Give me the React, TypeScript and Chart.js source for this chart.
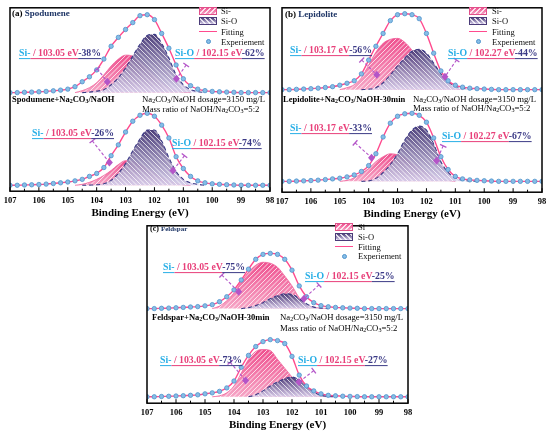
import { useEffect, useRef } from "react";
import { Chart, registerables } from "chart.js";
import type { Plugin, ScriptableContext } from "chart.js";

Chart.register(...registerables);

const SERIF = '"Liberation Serif", "Times New Roman", serif';
Chart.defaults.font.family = SERIF;

const _ = null;

// binding energy grid (eV), 0.25 eV steps
const energy = [
  107, 106.75, 106.5, 106.25, 106, 105.75, 105.5, 105.25, 105, 104.75, 104.5, 104.25, 104,
  103.75, 103.5, 103.25, 103, 102.75, 102.5, 102.25, 102, 101.75, 101.5, 101.25, 101, 100.75,
  100.5, 100.25, 100, 99.75, 99.5, 99.25, 99, 98.75, 98.5, 98.25, 98,
];

// (a) spodumene
const aTop = [0, 0, 0.3, 0.5, 0.8, 1.2, 1.8, 2.5, 3.5, 6, 11, 16, 23, 34, 47, 56, 64, 71, 78, 79, 74, 60, 45, 28, 14, 7, 3.5, 2, 1.2, 0.8, 0.5, 0.3, 0, 0, 0, 0, 0];
const aTopSi = [_, _, _, _, _, _, _, _, _, 0, 2, 5, 10, 18, 27, 34, 38, 37, 32, 25, 17, 10, 5, 2, 0.5, 0, _, _, _, _, _, _, _, _, _, _, _];
const aTopSiO = [_, _, _, _, _, _, _, _, _, _, 0, 0.5, 1.5, 3, 8, 15, 25, 37, 49, 58, 59, 50, 35, 18, 8, 3, 1, 0, _, _, _, _, _, _, _, _, _];
const aBot = [0, 0, 0.3, 0.5, 0.8, 1.2, 1.8, 2.5, 3.3, 4.5, 6, 9, 12, 18, 30, 41, 54, 65, 71, 73, 70, 61, 48, 29, 17, 9, 4.5, 2.5, 1.5, 1, 0.6, 0.3, 0, 0, 0, 0, 0];
const aBotSi = [_, _, _, _, _, _, _, _, _, 0, 1, 3, 6, 10, 15, 21, 25, 24, 21, 17, 12, 8, 4, 2, 0.5, 0, _, _, _, _, _, _, _, _, _, _, _];
const aBotSiO = [_, _, _, _, _, _, _, _, _, _, 0, 0.2, 0.5, 1.5, 5, 12, 22, 35, 47, 56, 56, 45, 28, 14, 6, 2.5, 1, 0, _, _, _, _, _, _, _, _, _];

// (b) lepidolite
const bTop = [0, 0, 0.3, 0.6, 1, 1.5, 2.2, 3, 4.5, 6.5, 9, 16, 30, 44, 57, 70, 76, 77, 76, 72, 57, 37, 19, 9, 4.5, 2.5, 1.5, 1, 0.6, 0.3, 0, 0, 0, 0, 0, 0, 0];
const bTopSi = [_, _, _, _, _, _, _, _, 0, 2, 5, 12, 25, 38, 47, 51, 52, 48, 40, 30, 20, 12, 6, 2.5, 1, 0, _, _, _, _, _, _, _, _, _, _, _];
const bTopSiO = [_, _, _, _, _, _, _, _, _, _, _, 0, 0.5, 2, 7, 15, 24, 32, 39, 41, 37, 27, 16, 8, 3.5, 1.5, 0.5, 0, _, _, _, _, _, _, _, _, _];
const bBot = [0, 0, 0.3, 0.5, 0.8, 1.2, 1.8, 2.5, 3.2, 4.5, 6.5, 10, 16, 28, 45, 59, 66, 68.5, 69, 67, 60, 44, 25, 12, 5, 2.5, 1.5, 1, 0.6, 0.3, 0, 0, 0, 0, 0, 0, 0];
const bBotSi = [_, _, _, _, _, _, _, _, 0, 1, 3.5, 8, 13, 20, 25, 28, 27, 24, 19, 14, 9, 5, 2.5, 1, 0, _, _, _, _, _, _, _, _, _, _, _, _];
const bBotSiO = [_, _, _, _, _, _, _, _, _, _, _, 0, 0.5, 3, 9, 17, 28, 42, 52, 56, 52, 38, 20, 9, 3.5, 1.2, 0.4, 0, _, _, _, _, _, _, _, _, _];

// (c) feldspar
const cTop = [0, 0, 0.3, 0.5, 0.8, 1.2, 1.6, 2, 2.8, 4, 7, 12, 19, 29, 40, 50, 55, 56, 55, 50, 39, 23, 12, 6, 3, 1.8, 1.2, 0.8, 0.5, 0.3, 0, 0, 0, 0, 0, 0, 0];
const cTopSi = [_, _, _, _, _, _, _, _, _, 0, 2.5, 8, 16, 27, 37, 44, 47, 46, 42, 33, 23, 11, 4, 1.5, 0.5, 0, _, _, _, _, _, _, _, _, _, _, _];
const cTopSiO = [_, _, _, _, _, _, _, _, _, _, _, _, _, 0, 1, 3, 6, 10, 13, 15, 14.5, 10, 5, 1.5, 0.5, 0, _, _, _, _, _, _, _, _, _, _, _];
const cBot = [0, 0, 0.3, 0.5, 0.8, 1.1, 1.5, 2, 3, 4, 5.5, 9, 16, 30, 42, 51, 56, 58, 57, 54, 41, 22, 11, 6, 3, 1.5, 1, 0.6, 0.4, 0.2, 0, 0, 0, 0, 0, 0, 0];
const cBotSi = [_, _, _, _, _, _, _, _, _, 0, 1, 4, 11, 24, 38, 46, 48, 47, 38, 29, 20, 11, 4, 1.5, 0.5, 0, _, _, _, _, _, _, _, _, _, _, _];
const cBotSiO = [_, _, _, _, _, _, _, _, _, _, _, _, _, _, 0, 2, 6, 11, 15, 18.5, 20, 17, 11, 5, 1.5, 0.5, 0, _, _, _, _, _, _, _, _, _, _];

// pointer pins: [cap eV, cap height, diamond eV, diamond height]
const aTopPins = [[103.98, 24, 103.63, 11], [100.9, 28, 101.24, 14]];
const aBotPins = [[104.15, 45, 103.56, 23], [100.96, 30, 101.36, 15]];
const bTopPins = [[104.24, 30, 103.72, 15], [100.96, 30, 101.36, 13]];
const bBotPins = [[104.47, 39, 103.9, 24], [101.42, 36, 101.65, 21]];
const cTopPins = [[104.42, 34, 103.84, 17], [101.07, 24, 101.59, 10]];
const cBotPins = [[104.13, 35, 103.6, 16.5], [101.25, 26.5, 101.76, 15]];

const xTicks = [107, 106, 105, 104, 103, 102, 101, 100, 99, 98];

const PINK = "#ff4b8e";
const PINK_TXT = "#e8407a";
const CYAN = "#27aee6";
const NAVY = "#3b3a86";
const PIN = "#b455c8";
const DOT = "#86bde6";
const DOT_EDGE = "#4f93cc";
const SI_STOPS = ["#ef4f8e", "#f6a6c6"];
const SIO_STOPS = ["rgba(68,54,116,0.95)", "rgba(214,204,234,0.93)"];

type Vals = (number | null)[];
type Spectrum = { offset: number; counts: Vals; si: Vals; sio: Vals; pins: number[][] };
type Box = { left: number; top: number; right: number; bottom: number };

function pts(vals: Vals, offset: number) {
  return energy.map((e, i) => ({ x: e, y: vals[i] == null ? null : (vals[i] as number) + offset }));
}

function peakOf(vals: Vals) {
  return Math.max(...(vals.filter((v) => v != null) as number[]));
}

function hatch(chart: Chart, topPx: number, botPx: number, stops: string[], rising: boolean) {
  const c = document.createElement("canvas");
  c.width = chart.width;
  c.height = chart.height;
  const g = c.getContext("2d")!;
  const grad = g.createLinearGradient(0, topPx, 0, botPx);
  grad.addColorStop(0, stops[0]);
  grad.addColorStop(1, stops[1]);
  g.fillStyle = grad;
  g.fillRect(0, 0, c.width, c.height);
  g.strokeStyle = "rgba(255,255,255,0.75)";
  g.lineWidth = 1;
  for (let k = -c.height; k < c.width; k += 4.5) {
    g.beginPath();
    if (rising) {
      g.moveTo(k, c.height);
      g.lineTo(k + c.height, 0);
    } else {
      g.moveTo(k, 0);
      g.lineTo(k + c.height, c.height);
    }
    g.stroke();
  }
  return chart.ctx.createPattern(c, "no-repeat")!;
}

const framePlugin: Plugin<"line"> = {
  id: "frame",
  afterDatasetsDraw(chart) {
    const { ctx, chartArea: a } = chart;
    const x = chart.scales.x;
    ctx.save();
    ctx.strokeStyle = "#000";
    ctx.lineWidth = 1;
    for (let v = 98; v <= 107; v += 0.5) {
      const px = x.getPixelForValue(v);
      const len = v % 1 === 0 ? 4 : 2.5;
      ctx.beginPath();
      ctx.moveTo(px, a.bottom);
      ctx.lineTo(px, a.bottom - len);
      ctx.stroke();
    }
    ctx.lineWidth = 1.5;
    ctx.strokeRect(a.left, a.top, a.right - a.left, a.bottom - a.top);
    ctx.restore();
  },
};

const pinPlugin: Plugin<"line"> = {
  id: "pins",
  afterDatasetsDraw(chart, _args, opts: any) {
    const items: number[][] = opts.items || [];
    const { ctx } = chart;
    const x = chart.scales.x;
    const y = chart.scales.y;
    ctx.save();
    for (const p of items) {
      const tx = x.getPixelForValue(p[0]);
      const ty = y.getPixelForValue(p[1]);
      const dx = x.getPixelForValue(p[2]);
      const dy = y.getPixelForValue(p[3]);
      const ang = Math.atan2(dy - ty, dx - tx);
      ctx.strokeStyle = PIN;
      ctx.lineWidth = 1.1;
      ctx.setLineDash([3, 2]);
      ctx.beginPath();
      ctx.moveTo(tx, ty);
      ctx.lineTo(dx, dy);
      ctx.stroke();
      ctx.setLineDash([]);
      const nx = -Math.sin(ang) * 3.5;
      const ny = Math.cos(ang) * 3.5;
      ctx.lineWidth = 1.3;
      ctx.beginPath();
      ctx.moveTo(tx + nx, ty + ny);
      ctx.lineTo(tx - nx, ty - ny);
      ctx.stroke();
      ctx.fillStyle = PIN;
      ctx.beginPath();
      ctx.moveTo(dx, dy - 4);
      ctx.lineTo(dx + 3.5, dy);
      ctx.lineTo(dx, dy + 4);
      ctx.lineTo(dx - 3.5, dy);
      ctx.closePath();
      ctx.fill();
    }
    ctx.restore();
  },
};

function SpectraChart({ box, spectra }: { box: Box; spectra: Spectrum[] }) {
  const canvasRef = useRef<HTMLCanvasElement>(null);
  const h = box.bottom - box.top;

  useEffect(() => {
    if (!canvasRef.current) return;
    const datasets: any[] = [];
    const pins: number[][] = [];
    spectra.forEach((s) => {
      const fillFor = (vals: Vals, stops: string[], rising: boolean) => (ctx: ScriptableContext<"line">) => {
        const chart = ctx.chart;
        if (!chart.chartArea) return "transparent";
        const ys = chart.scales.y;
        return hatch(chart, ys.getPixelForValue(s.offset + peakOf(vals)), ys.getPixelForValue(s.offset), stops, rising);
      };
      datasets.push(
        {
          label: "Experiement",
          data: pts(s.counts, s.offset),
          showLine: false,
          pointRadius: 2.2,
          pointBackgroundColor: DOT,
          pointBorderColor: DOT_EDGE,
          pointBorderWidth: 0.8,
          order: 1,
        },
        {
          label: "Fitting",
          data: pts(s.counts, s.offset),
          borderColor: PINK,
          borderWidth: 1.4,
          pointRadius: 0,
          cubicInterpolationMode: "monotone",
          order: 2,
        },
        {
          label: "Si-O",
          data: pts(s.sio, s.offset),
          borderColor: NAVY,
          borderWidth: 1.1,
          borderDash: [4, 3],
          pointRadius: 0,
          cubicInterpolationMode: "monotone",
          fill: { value: s.offset },
          backgroundColor: fillFor(s.sio, SIO_STOPS, false),
          order: 3,
        },
        {
          label: "Si-",
          data: pts(s.si, s.offset),
          borderColor: "#f0619a",
          borderWidth: 0.8,
          pointRadius: 0,
          cubicInterpolationMode: "monotone",
          fill: { value: s.offset },
          backgroundColor: fillFor(s.si, SI_STOPS, true),
          order: 4,
        }
      );
      s.pins.forEach((p) => pins.push([p[0], p[1] + s.offset, p[2], p[3] + s.offset]));
    });

    const chart = new Chart(canvasRef.current, {
      type: "line",
      data: { datasets },
      plugins: [framePlugin, pinPlugin],
      options: {
        animation: false,
        responsive: true,
        maintainAspectRatio: false,
        events: [],
        layout: { padding: { left: 12, right: 12, top: 2, bottom: 2.4 } },
        plugins: {
          legend: { display: false },
          tooltip: { enabled: false },
          // @ts-ignore custom plugin options
          pins: { items: pins },
        },
        scales: {
          x: {
            type: "linear",
            reverse: true,
            min: 98,
            max: 107,
            afterBuildTicks: (axis) => {
              axis.ticks = xTicks.map((v) => ({ value: v }));
            },
            ticks: { color: "#000", padding: 4, font: { size: 8.5, weight: "bold" } },
            grid: { display: false, drawTicks: false },
            border: { display: false },
            title: {
              display: true,
              text: "Binding Energy (eV)",
              color: "#000",
              padding: { top: -3, bottom: 0 },
              font: { size: 11, weight: "bold" },
            },
          },
          y: { display: false, min: 0, max: h },
        },
      },
    });

    return () => chart.destroy();
  }, [box, spectra, h]);

  return (
    <div
      style={{
        position: "absolute",
        left: box.left - 12,
        top: box.top - 2,
        width: box.right - box.left + 24,
        height: h + 33,
      }}
    >
      <canvas ref={canvasRef} />
    </div>
  );
}

function Chem({ pre, post }: { pre?: string; post?: string }) {
  const sub = { fontSize: "0.7em", verticalAlign: "-0.25em", lineHeight: 0 };
  return (
    <>
      {pre}Na<span style={sub}>2</span>CO<span style={sub}>3</span>/NaOH{post}
    </>
  );
}

function Text({ x, y, children, style }: { x: number; y: number; children: any; style?: any }) {
  return (
    <div
      style={{
        position: "absolute",
        left: x,
        top: y,
        transform: "translateY(-50%)",
        whiteSpace: "nowrap",
        lineHeight: 1,
        fontFamily: SERIF,
        ...style,
      }}
    >
      {children}
    </div>
  );
}

function PeakLabel({ x, y, name, ev, pct }: { x: number; y: number; name: string; ev: string; pct: string }) {
  const u = { textDecoration: "underline", textDecorationThickness: "1px", textUnderlineOffset: "1.5px" };
  return (
    <Text x={x} y={y} style={{ fontSize: 9.8, fontWeight: "bold" }}>
      <span style={{ ...u, color: CYAN }}>{name}</span>
      <span style={{ ...u, color: PINK_TXT }}>{` / ${ev} eV`}</span>
      <span style={{ ...u, color: NAVY }}>{`-${pct}%`}</span>
    </Text>
  );
}

function Conditions({ x, y1, y2 }: { x: number; y1: number; y2: number }) {
  const sub = { fontSize: "0.7em", verticalAlign: "-0.25em", lineHeight: 0 };
  return (
    <>
      <Text x={x} y={y1} style={{ fontSize: 8.7 }}>
        <Chem post=" dosage=3150 mg/L" />
      </Text>
      <Text x={x} y={y2} style={{ fontSize: 8.7 }}>
        Mass ratio of NaOH/Na<span style={sub}>2</span>CO<span style={sub}>3</span>=5:2
      </Text>
    </>
  );
}

function swatch(stops: string[], edge: string, angle: number) {
  return {
    background: `repeating-linear-gradient(${angle}deg, rgba(255,255,255,0.8) 0 1px, transparent 1px 3.5px), linear-gradient(${stops[0]}, ${stops[1]})`,
    border: `1px solid ${edge}`,
    boxSizing: "border-box" as const,
  };
}

function Legend({ x, tx, rows, siName }: { x: number; tx: number; rows: number[]; siName: string }) {
  const t = { fontSize: 8.5, color: "#111" };
  return (
    <>
      <div style={{ position: "absolute", left: x, top: rows[0] - 4, width: 18, height: 8, ...swatch(SI_STOPS, "#e0508a", 135) }} />
      <Text x={tx} y={rows[0]} style={t}>{siName}</Text>
      <div style={{ position: "absolute", left: x, top: rows[1] - 4, width: 18, height: 8, ...swatch(SIO_STOPS, "#4a3b78", 45) }} />
      <Text x={tx} y={rows[1]} style={t}>Si-O</Text>
      <div style={{ position: "absolute", left: x, top: rows[2] - 0.75, width: 18, height: 1.5, background: PINK }} />
      <Text x={tx} y={rows[2]} style={t}>Fitting</Text>
      <div
        style={{
          position: "absolute",
          left: x + 6.5,
          top: rows[3] - 2.5,
          width: 5,
          height: 5,
          borderRadius: "50%",
          background: DOT,
          border: `0.8px solid ${DOT_EDGE}`,
          boxSizing: "border-box",
        }}
      />
      <Text x={tx} y={rows[3]} style={t}>Experiement</Text>
    </>
  );
}

const boxA: Box = { left: 10, top: 5, right: 270, bottom: 191 };
const boxB: Box = { left: 282, top: 5, right: 542, bottom: 192 };
const boxC: Box = { left: 147, top: 223, right: 408, bottom: 403 };

const spectraA: Spectrum[] = [
  { offset: 100, counts: aTop, si: aTopSi, sio: aTopSiO, pins: aTopPins },
  { offset: 6, counts: aBot, si: aBotSi, sio: aBotSiO, pins: aBotPins },
];
const spectraB: Spectrum[] = [
  { offset: 104, counts: bTop, si: bTopSi, sio: bTopSiO, pins: bTopPins },
  { offset: 11, counts: bBot, si: bBotSi, sio: bBotSiO, pins: bBotPins },
];
const spectraC: Spectrum[] = [
  { offset: 96, counts: cTop, si: cTopSi, sio: cTopSiO, pins: cTopPins },
  { offset: 6.5, counts: cBot, si: cBotSi, sio: cBotSiO, pins: cBotPins },
];

export default function App() {
  const bold = { fontWeight: "bold" };
  return (
    <div
      style={{
        position: "fixed",
        left: 0,
        top: 0,
        width: 550,
        height: 437,
        background: "#fff",
        overflow: "hidden",
        fontFamily: SERIF,
      }}
    >
      <SpectraChart box={boxA} spectra={spectraA} />
      <SpectraChart box={boxB} spectra={spectraB} />
      <SpectraChart box={boxC} spectra={spectraC} />

      {/* (a) */}
      <Text x={12} y={13} style={{ ...bold, fontSize: 9 }}>
        (a) <span style={{ color: "#1e3566" }}>Spodumene</span>
      </Text>
      <Legend x={199} tx={221} rows={[11, 21, 31.5, 41.5]} siName="Si-" />
      <PeakLabel x={19} y={53} name="Si-" ev="103.05" pct="38" />
      <PeakLabel x={175} y={53} name="Si-O" ev="102.15" pct="62" />
      <Text x={12} y={99} style={{ ...bold, fontSize: 8.5 }}>
        <Chem pre="Spodumene+" />
      </Text>
      <Conditions x={142} y1={99} y2={109} />
      <PeakLabel x={32} y={133} name="Si-" ev="103.05" pct="26" />
      <PeakLabel x={172} y={143} name="Si-O" ev="102.15" pct="74" />

      {/* (b) */}
      <Text x={285} y={14} style={{ ...bold, fontSize: 9 }}>
        (b) <span style={{ color: "#1e3566" }}>Lepidolite</span>
      </Text>
      <Legend x={469} tx={492} rows={[11, 21, 31.5, 41.5]} siName="Si-" />
      <PeakLabel x={290} y={50} name="Si-" ev="103.17" pct="56" />
      <PeakLabel x={448} y={53} name="Si-O" ev="102.27" pct="44" />
      <Text x={283} y={99} style={{ ...bold, fontSize: 8.5 }}>
        <Chem pre="Lepidolite+" post="-30min" />
      </Text>
      <Conditions x={413} y1={99} y2={108} />
      <PeakLabel x={290} y={128} name="Si-" ev="103.17" pct="33" />
      <PeakLabel x={442} y={136} name="Si-O" ev="102.27" pct="67" />

      {/* (c) */}
      <Text x={150} y={229} style={{ ...bold, fontSize: 8 }}>
        (c) <span style={{ color: "#1e3566", fontSize: 7 }}>Feldspar</span>
      </Text>
      <Legend x={335} tx={358} rows={[226.7, 236.7, 246.7, 256]} siName="Si" />
      <PeakLabel x={163} y={267} name="Si-" ev="103.05" pct="75" />
      <PeakLabel x={305} y={276} name="Si-O" ev="102.15" pct="25" />
      <Text x={152} y={317} style={{ ...bold, fontSize: 8.5 }}>
        <Chem pre="Feldspar+" post="-30min" />
      </Text>
      <Conditions x={280} y1={317} y2={328} />
      <PeakLabel x={160} y={360} name="Si-" ev="103.05" pct="73" />
      <PeakLabel x={298} y={360} name="Si-O" ev="102.15" pct="27" />
    </div>
  );
}
